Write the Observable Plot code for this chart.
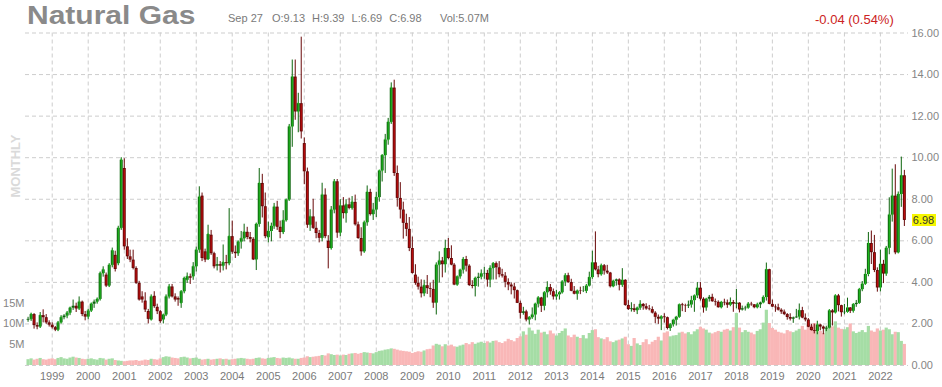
<!DOCTYPE html>
<html><head><meta charset="utf-8">
<script src="https://cdn.jsdelivr.net/npm/d3@7"></script>
<script src="https://cdn.jsdelivr.net/npm/@observablehq/plot@0.6"></script>
<style>
body{margin:0;background:#fff;}
#wrap{position:relative;width:942px;height:387px;overflow:hidden;font-family:"Liberation Sans",Arial,sans-serif;background:#fff;}
#wrap svg{position:absolute;left:0;top:0;}
.t{position:absolute;white-space:nowrap;}
#title{left:27px;top:2.7px;font-weight:bold;font-size:25px;line-height:25px;color:#8a8a8a;transform:scaleX(1.2);transform-origin:left top;}
.sub{font-size:11px;line-height:11px;color:#7a7a7a;top:12.7px;}
#chg{left:815px;top:13px;font-size:13px;line-height:13px;color:#cc2222;}
#monthly{left:14.5px;top:165.5px;transform:translate(-50%,-50%) rotate(-90deg);font-weight:bold;font-size:13px;line-height:13px;color:#dadada;}
#last{width:24px;height:12px;left:911.5px;background:#f7f700;color:#333;font-size:11px;line-height:12px;text-align:center;}
</style></head><body>
<div id="wrap">
  <div class="t" id="title">Natural Gas</div>
  <div class="t sub" style="left:228px">Sep 27</div>
  <div class="t sub" style="left:272px;word-spacing:4px">O:9.13 H:9.39 L:6.69 C:6.98</div>
  <div class="t sub" style="left:440px">Vol:5.07M</div>
  <div class="t" id="chg">-0.04 (0.54%)</div>
  <div class="t" id="monthly">MONTHLY</div>
</div>
<script>
// first monthly bar: May 1998, last: Sep 2022
const firstMonth = [1998, 4];
const lastMonth = [2022, 8];

// monthly candles [open, high, low, close]
const ohlc = [
  // 1998 (May-Dec)
  [2.18,2.32,2.08,2.22],[2.22,2.52,2.12,2.45],[2.45,2.50,1.75,1.92],[1.92,2.05,1.72,1.85],[1.85,2.55,1.78,2.40],[2.40,2.68,2.05,2.30],[2.30,2.45,1.98,2.05],[2.05,2.15,1.85,1.94],
  // 1999
  [1.94,2.05,1.75,1.82],[1.82,1.88,1.63,1.70],[1.70,2.12,1.63,2.05],[2.05,2.40,2.00,2.30],[2.30,2.45,2.20,2.38],[2.38,2.60,2.25,2.52],[2.52,2.80,2.40,2.76],[2.76,3.15,2.65,2.85],[2.85,3.00,2.55,2.72],[2.72,3.30,2.65,3.05],[3.05,3.10,2.35,2.45],[2.45,2.60,2.15,2.33],
  // 2000
  [2.33,2.70,2.20,2.62],[2.62,3.00,2.55,2.95],[2.95,3.15,2.75,3.05],[3.05,3.25,2.95,3.18],[3.18,4.50,3.10,4.42],[4.42,4.75,4.25,4.60],[4.35,4.45,3.75,3.82],[3.82,4.90,3.75,4.82],[4.82,5.65,4.70,5.52],[5.30,5.50,4.50,4.62],[4.90,6.70,4.80,6.60],[6.60,10.00,6.50,9.88],
  // 2001
  [9.48,9.95,5.55,5.71],[5.71,6.10,5.10,5.23],[5.23,5.55,4.95,5.07],[5.07,5.55,4.60,4.67],[4.67,4.75,3.90,3.95],[3.95,4.05,3.10,3.15],[3.30,3.55,3.00,3.15],[3.10,3.50,2.55,2.67],[2.60,2.70,2.00,2.22],[2.19,3.40,2.15,3.30],[3.33,3.55,2.75,2.83],[2.80,2.95,2.45,2.59],
  // 2002
  [2.59,2.65,2.03,2.11],[2.19,2.45,2.00,2.43],[2.43,3.40,2.35,3.30],[3.30,3.90,3.20,3.78],[3.78,3.90,3.25,3.30],[3.30,3.45,3.05,3.15],[3.22,3.30,2.85,3.15],[2.99,3.60,2.75,3.55],[3.55,4.25,3.45,4.19],[4.10,4.45,3.95,4.27],[4.27,4.40,3.90,4.20],[4.27,4.95,4.10,4.75],
  // 2003
  [4.75,5.70,4.50,5.55],[5.55,8.60,5.40,8.10],[8.15,8.30,5.00,5.15],[5.47,5.60,4.95,5.07],[5.10,6.75,5.05,6.30],[6.27,6.50,5.30,5.38],[5.38,5.45,4.65,4.75],[4.78,5.20,4.55,4.85],[4.85,5.00,4.45,4.78],[4.78,5.80,4.55,4.95],[4.95,5.30,4.60,4.90],[4.90,7.55,4.80,6.20],
  // 2004
  [6.20,6.95,5.35,5.45],[5.45,5.75,5.15,5.38],[5.38,5.98,5.25,5.94],[5.94,6.45,5.60,6.10],[6.10,6.80,5.95,6.41],[6.41,6.65,6.05,6.16],[6.16,6.40,5.90,6.07],[6.07,6.15,5.05,5.08],[5.08,6.85,4.57,6.79],[6.79,9.48,6.65,8.76],[8.76,9.20,7.10,7.64],[7.64,8.30,6.10,6.20],
  // 2005
  [6.15,6.90,5.90,6.45],[6.45,6.85,5.95,6.70],[6.70,7.80,6.55,7.62],[7.62,7.90,6.50,6.65],[6.65,6.95,6.10,6.40],[6.40,7.45,6.30,6.97],[6.97,8.00,6.90,7.96],[7.96,11.60,7.90,11.48],[11.48,14.70,10.50,13.88],[13.88,14.70,11.80,12.20],[12.20,13.10,11.20,12.60],[12.60,15.80,10.90,11.24],
  // 2006
  [10.68,10.95,8.70,9.32],[9.32,9.50,6.60,6.75],[6.75,7.50,6.45,7.15],[7.15,8.00,6.55,6.60],[6.60,6.90,6.10,6.35],[6.35,6.50,5.90,6.12],[6.12,8.77,5.95,8.20],[8.20,8.50,6.10,6.20],[5.98,6.25,4.65,5.63],[5.63,7.65,5.55,7.48],[7.48,8.95,7.30,8.84],[8.84,8.95,6.12,6.37],
  // 2007
  [6.37,7.98,6.20,7.68],[7.68,8.08,7.05,7.31],[7.31,7.98,6.85,7.73],[7.73,8.05,7.49,7.56],[7.56,8.13,7.47,7.85],[7.85,8.20,6.71,6.77],[6.77,6.90,6.07,6.11],[6.11,6.63,5.26,5.47],[5.47,6.95,5.40,6.87],[6.87,8.64,6.70,8.33],[8.33,8.48,7.19,7.26],[7.26,7.80,6.98,7.48],
  // 2008
  [7.48,8.34,7.12,8.08],[8.08,9.39,7.86,9.36],[9.36,10.14,8.83,10.10],[10.10,11.12,9.24,10.85],[10.85,11.89,10.60,11.70],[11.70,13.60,11.60,13.35],[13.35,13.73,9.10,9.24],[9.24,9.60,7.62,8.04],[8.04,8.80,7.05,7.48],[7.48,7.86,6.08,6.84],[6.84,7.28,6.20,6.55],[6.55,7.12,5.48,5.63],
  // 2009
  [5.63,6.18,4.40,4.43],[4.35,4.85,3.86,3.95],[3.95,4.25,3.63,3.77],[3.77,4.12,3.25,3.45],[3.45,4.10,3.31,3.84],[3.84,4.33,3.42,3.70],[3.70,3.97,3.26,3.66],[3.66,4.10,2.75,3.00],[3.00,4.94,2.43,4.83],[4.83,5.47,3.97,5.03],[5.03,5.20,4.22,4.85],[4.85,6.03,4.45,5.63],
  // 2010
  [5.63,6.11,5.09,5.15],[5.15,5.76,4.80,4.83],[4.83,4.91,3.84,3.87],[3.87,4.26,3.82,4.27],[4.27,4.60,4.15,4.59],[4.59,5.20,4.40,5.10],[5.10,5.25,4.50,4.78],[4.78,4.85,3.80,3.85],[3.85,4.08,3.69,3.80],[3.80,4.25,3.30,4.19],[4.19,4.44,3.77,4.25],[4.25,4.60,4.12,4.41],
  // 2011
  [4.41,4.72,4.15,4.43],[4.43,4.58,3.77,4.11],[4.11,4.80,3.74,4.67],[4.67,4.95,4.11,4.90],[4.90,4.98,4.12,4.70],[4.70,5.00,4.22,4.37],[4.37,4.63,4.21,4.30],[4.30,4.47,3.74,4.00],[4.00,4.17,3.60,3.87],[3.87,3.97,3.40,3.78],[3.78,3.96,3.20,3.60],[3.60,3.63,2.98,2.99],
  // 2012
  [2.99,3.10,2.23,2.51],[2.51,2.80,2.42,2.58],[2.58,2.66,2.10,2.19],[2.19,2.35,1.95,2.30],[2.30,2.77,2.22,2.43],[2.43,2.99,2.15,2.95],[2.95,3.31,2.77,3.25],[3.25,3.28,2.55,2.85],[2.85,3.55,2.63,3.50],[3.50,4.03,3.25,3.75],[3.75,3.90,3.38,3.55],[3.55,3.68,3.15,3.30],
  // 2013
  [3.30,3.62,3.14,3.40],[3.40,3.55,3.15,3.50],[3.50,4.08,3.44,4.02],[4.02,4.42,3.80,4.32],[4.32,4.44,3.95,3.99],[3.99,4.15,3.55,3.57],[3.57,3.80,3.40,3.43],[3.43,3.62,3.14,3.58],[3.58,3.77,3.41,3.56],[3.56,3.80,3.51,3.57],[3.57,3.90,3.46,3.82],[3.82,4.49,3.80,4.23],
  // 2014
  [4.23,5.50,4.15,4.94],[4.94,6.43,4.55,4.60],[4.60,4.77,4.22,4.37],[4.37,4.88,4.30,4.80],[4.80,4.86,4.35,4.54],[4.54,4.82,4.38,4.45],[4.45,4.48,3.73,3.79],[3.79,4.10,3.75,4.05],[4.05,4.16,3.82,4.12],[4.12,4.17,3.59,3.86],[3.86,4.66,3.76,4.10],[4.10,4.13,2.85,2.89],
  // 2015
  [2.89,3.12,2.65,2.69],[2.69,3.02,2.57,2.73],[2.73,2.94,2.55,2.64],[2.64,2.80,2.45,2.76],[2.76,3.12,2.65,2.94],[2.94,2.98,2.66,2.83],[2.83,2.97,2.66,2.72],[2.72,2.89,2.63,2.69],[2.69,2.82,2.48,2.52],[2.52,2.59,2.01,2.32],[2.32,2.43,1.98,2.23],[2.23,2.38,1.68,2.34],
  // 2016
  [2.34,2.49,2.04,2.30],[2.30,2.33,1.71,1.78],[1.78,2.01,1.64,1.96],[1.96,2.18,1.85,2.18],[2.18,2.35,1.90,2.32],[2.32,2.93,2.28,2.92],[2.92,2.99,2.59,2.88],[2.88,2.95,2.55,2.86],[2.86,3.10,2.74,2.91],[2.91,3.33,2.76,3.12],[3.12,3.38,2.56,3.35],[3.35,3.99,3.22,3.72],
  // 2017
  [3.72,3.99,3.10,3.19],[3.19,3.26,2.52,2.77],[2.77,3.22,2.61,3.19],[3.19,3.37,3.05,3.28],[3.28,3.43,3.04,3.07],[3.07,3.20,2.86,3.04],[3.04,3.11,2.76,2.78],[2.78,3.06,2.73,3.04],[3.04,3.19,2.87,3.01],[3.01,3.15,2.75,2.90],[2.90,3.25,2.83,3.03],[3.03,3.13,2.56,2.95],
  // 2018
  [2.95,3.66,2.73,3.00],[3.00,3.02,2.53,2.67],[2.67,2.86,2.62,2.73],[2.73,2.85,2.62,2.76],[2.76,3.03,2.72,2.95],[2.95,3.04,2.85,2.92],[2.92,2.93,2.73,2.78],[2.78,3.00,2.73,2.92],[2.92,3.05,2.74,3.01],[3.01,3.35,3.00,3.27],[3.27,4.93,3.10,4.61],[4.61,4.63,2.92,2.94],
  // 2019
  [2.94,3.15,2.80,2.81],[2.81,2.92,2.56,2.78],[2.78,2.95,2.62,2.66],[2.66,2.73,2.46,2.57],[2.57,2.67,2.40,2.45],[2.45,2.50,2.18,2.31],[2.31,2.49,2.14,2.23],[2.23,2.33,2.03,2.29],[2.29,2.70,2.27,2.33],[2.33,2.96,2.19,2.64],[2.64,2.80,2.25,2.28],[2.28,2.48,2.10,2.19],
  // 2020
  [2.19,2.26,1.82,1.84],[1.84,1.98,1.66,1.68],[1.68,1.99,1.52,1.64],[1.64,2.13,1.48,1.95],[1.95,1.99,1.67,1.85],[1.85,1.90,1.48,1.75],[1.75,1.89,1.63,1.80],[1.80,2.69,1.78,2.63],[2.63,2.69,1.90,2.53],[2.53,3.40,2.49,3.35],[3.35,3.42,2.58,2.88],[2.88,2.90,2.33,2.54],
  // 2021
  [2.54,2.94,2.44,2.56],[2.56,3.24,2.53,2.77],[2.77,2.79,2.50,2.61],[2.61,2.97,2.52,2.93],[2.93,3.13,2.80,2.99],[2.99,3.71,2.96,3.65],[3.65,4.04,3.55,3.91],[3.91,4.63,3.86,4.38],[4.38,6.40,4.27,5.87],[5.87,6.47,4.86,5.43],[5.43,6.26,4.47,4.57],[4.57,4.70,3.53,3.73],
  // 2022 (Jan-Sep)
  [3.73,5.55,3.54,4.87],[4.87,5.06,3.94,4.40],[4.40,5.73,4.29,5.64],[5.64,8.07,5.33,7.24],[7.24,9.45,6.90,8.15],[8.15,9.66,5.33,5.42],[5.42,8.35,5.38,8.23],[8.23,10.03,7.61,9.13],[9.13,9.39,6.69,6.98]
];

// monthly volume, millions
const volume = [
  1.4,1.6,1.3,1.5,1.7,1.4,1.3,1.5,
  1.6,1.4,1.7,1.9,1.6,1.5,1.8,2.0,1.8,1.7,1.5,1.4,
  1.5,1.6,1.4,1.3,1.7,1.6,1.3,1.5,1.6,1.2,1.1,1.0,
  0.9,1.0,1.1,1.1,1.2,1.0,1.1,1.3,1.2,1.5,1.4,1.3,
  1.6,1.9,2.1,2.0,1.8,1.7,1.6,1.9,2.0,1.8,1.6,1.7,
  1.8,1.5,1.3,1.4,1.5,1.3,1.4,1.5,1.6,1.4,1.5,1.3,
  1.4,1.5,1.6,1.7,1.6,1.5,1.4,1.5,1.7,1.8,1.6,1.5,
  1.7,1.8,1.9,1.7,1.6,1.8,1.7,1.8,1.6,1.5,1.5,1.7,
  1.8,2.1,1.9,2.0,2.1,2.2,2.4,2.3,2.8,2.6,2.4,2.5,
  2.3,2.5,2.4,2.7,2.8,2.9,2.7,2.9,3.1,3.0,2.9,2.8,
  3.1,3.4,3.5,3.7,3.8,4.0,3.9,3.7,3.5,3.4,3.3,3.2,
  2.9,3.1,3.3,3.2,3.5,3.8,3.9,4.7,5.1,4.9,4.5,5.0,
  4.7,4.9,4.5,4.4,4.7,4.9,5.3,5.0,5.5,5.1,5.4,5.6,
  5.3,5.7,5.4,5.8,5.9,5.5,5.3,5.7,6.3,6.0,5.7,6.5,
  6.9,8.1,7.3,9.0,8.3,7.5,8.5,7.8,8.0,7.4,8.3,7.6,
  7.1,7.7,8.2,8.8,7.1,6.7,7.3,6.8,6.5,7.2,6.4,7.7,
  8.4,8.6,6.7,6.4,6.2,6.7,5.7,5.5,5.9,6.1,6.4,6.8,
  5.0,4.6,6.5,5.2,4.8,5.5,6.2,5.0,5.6,6.0,6.8,5.9,
  7.8,8.1,6.9,7.1,7.2,7.8,8.0,7.6,7.9,7.4,8.1,8.6,
  9.2,8.8,8.5,7.8,7.6,7.9,8.2,8.0,8.5,8.7,8.3,9.1,
  12.5,9.0,7.9,8.4,8.0,7.8,7.4,8.2,8.6,10.2,13.3,10.1,
  8.9,8.5,8.0,7.8,7.6,8.4,8.1,7.9,8.3,8.7,9.4,8.5,
  9.8,9.6,10.1,9.1,8.2,7.7,8.8,9.6,9.3,10.5,9.0,8.7,
  8.6,9.1,10.0,8.1,7.7,8.0,8.4,7.9,9.4,8.3,8.0,8.8,
  8.3,8.5,9.0,8.6,7.4,8.0,7.9,5.8,5.07
];

const priceTicks = [0, 2, 4, 6, 8, 10, 12, 14, 16];
const volumeTicks = [5, 10, 15];      // millions
const volumePerPriceUnit = 5;         // 5M of volume drawn per 1.00 of price axis
const yearTicks = d3.range(1999, 2023);

const months = d3.utcMonth.range(
  new Date(Date.UTC(firstMonth[0], firstMonth[1], 1)),
  new Date(Date.UTC(lastMonth[0], lastMonth[1] + 1, 1))
);
const data = months.map((date, i) => ({
  date, open: ohlc[i][0], high: ohlc[i][1], low: ohlc[i][2], close: ohlc[i][3],
  vol: volume[i], up: ohlc[i][3] >= ohlc[i][0]
}));
const yearDates = yearTicks.map(y => new Date(Date.UTC(y, 0, 1)));

const upFill = "#22c422", upLine = "#0c640c";
const dnFill = "#c80e0e", dnLine = "#680808";
const gridStyle = {stroke: "#cdcdcd", strokeOpacity: 1, strokeDasharray: "4,3"};

const plot = Plot.plot({
  width: 942, height: 387,
  marginTop: 32.5, marginBottom: 22, marginLeft: 25, marginRight: 34,
  style: {fontFamily: "'Liberation Sans', Arial, sans-serif", fontSize: "11px", color: "#888", background: "transparent", overflow: "visible"},
  x: {type: "utc", domain: [new Date(Date.UTC(1998, 3, 5)), new Date(Date.UTC(2022, 9, 13))]},
  y: {domain: [0, 16]},
  color: {type: "identity"},
  marks: [
    Plot.gridY(priceTicks, gridStyle),
    Plot.gridX(yearDates, gridStyle),
    Plot.ruleX(data, {x: "date", y1: 0, y2: d => d.vol / volumePerPriceUnit, stroke: d => d.up ? "#a5dda5" : "#f9b7b7", strokeWidth: 3.2}),
    Plot.ruleX(data, {x: "date", y1: "low", y2: "high", stroke: d => d.up ? upLine : dnLine, strokeWidth: 1}),
    Plot.ruleX(data, {x: "date", y1: "open", y2: "close", stroke: d => d.up ? upLine : dnLine, strokeWidth: 3}),
    Plot.ruleX(data.filter(d => Math.abs(d.close - d.open) >= 0.1), {x: "date", y1: "open", y2: "close", stroke: d => d.up ? upFill : dnFill, strokeWidth: 1, insetTop: 1, insetBottom: 1}),
    Plot.axisY(priceTicks, {anchor: "right", tickSize: 0, tickPadding: 3, tickFormat: d => d.toFixed(2), fill: "#858585"}),
    Plot.axisY(volumeTicks.map(v => v / volumePerPriceUnit), {anchor: "left", tickSize: 0, tickPadding: 1, tickFormat: d => (d * volumePerPriceUnit) + "M", fill: "#858585"}),
    Plot.axisX(yearDates, {anchor: "bottom", tickSize: 0, tickPadding: 7, tickFormat: "%Y", fill: "#7a7a7a"})
  ]
});
const wrap = document.getElementById("wrap");
wrap.insertBefore(plot, wrap.firstChild);

// last price tag on the right axis
const last = data[data.length - 1];
const yPix = plot.scale("y").apply(last.close);
const tag = document.createElement("div");
tag.className = "t"; tag.id = "last";
tag.style.top = (yPix - 6) + "px";
tag.textContent = last.close.toFixed(2);
wrap.appendChild(tag);
</script>
</body></html>
